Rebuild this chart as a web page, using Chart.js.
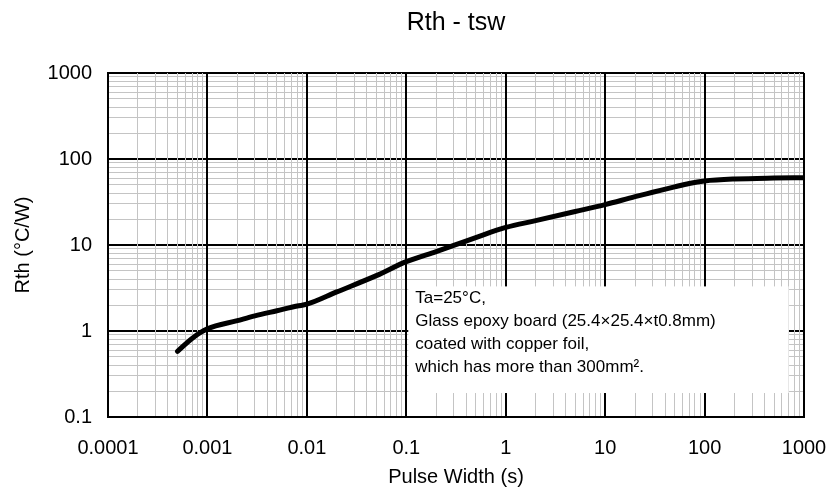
<!DOCTYPE html>
<html>
<head>
<meta charset="utf-8">
<title>Rth - tsw</title>
<script src="https://cdn.jsdelivr.net/npm/chart.js@4/dist/chart.umd.min.js"></script>
<style>
  html, body { margin: 0; padding: 0; background: #fff; }
  #wrap { width: 830px; height: 489px; }
</style>
</head>
<body>
<div id="wrap"><canvas id="rthChart" width="830" height="489"></canvas></div>
<script>
// Pulse width (s) and thermal resistance (°C/W)
const pulseWidth = [0.0005, 0.0007, 0.001, 0.002, 0.003, 0.005, 0.008, 0.01, 0.02, 0.05, 0.1, 0.2, 0.3, 0.5, 1, 2, 5, 10, 20, 30, 50, 70, 100, 200, 500, 1000];
const rthValues = [0.58, 0.82, 1.06, 1.32, 1.5, 1.72, 1.95, 2.05, 2.85, 4.4, 6.4, 8.4, 9.9, 12.2, 16, 19.2, 24.5, 29.5, 36.5, 41, 47.5, 52, 55.5, 58.5, 60, 60.5];

// decade tick labels
const xTickLabels = ["0.0001", "0.001", "0.01", "0.1", "1", "10", "100", "1000"];
const yTickLabels = ["0.1", "1", "10", "100", "1000"];

const noteLines = [
  "Ta=25°C,",
  "Glass epoxy board (25.4×25.4×t0.8mm)",
  "coated with copper foil,",
  "which has more than 300mm².",
];

const FONT = "Arial, 'Liberation Sans', sans-serif";

// 1..9 x 10^n ticks between the first and last decade label
function logTicks(labels) {
  const ticks = [];
  const first = Math.round(Math.log10(parseFloat(labels[0])));
  const last = Math.round(Math.log10(parseFloat(labels[labels.length - 1])));
  for (let e = first; e < last; e++) {
    for (let m = 1; m <= 9; m++) {
      ticks.push({ value: Number((m * Math.pow(10, e)).toPrecision(12)) });
    }
  }
  ticks.push({ value: Math.pow(10, last) });
  return ticks;
}

function isDecade(v) {
  const l = Math.log10(v);
  return Math.abs(l - Math.round(l)) < 1e-9;
}

function decadeLabel(labels) {
  return function (value) {
    if (!isDecade(value)) return "";
    const hit = labels.find((s) => Math.abs(parseFloat(s) - value) < value * 1e-6);
    return hit || "";
  };
}

function gridColor(ctx) {
  return ctx.tick && isDecade(ctx.tick.value) ? "#000000" : "#c4c4c4";
}

function gridWidth(ctx) {
  return ctx.tick && isDecade(ctx.tick.value) ? 2 : 1;
}

// white note box placed in data units
const noteBox = { xMin: 0.1, xMax: 700, yMin: 0.19, yMax: 3.3 };

const notePlugin = {
  id: "note",
  beforeDatasetsDraw(chart) {
    const { ctx, scales } = chart;
    const left = scales.x.getPixelForValue(noteBox.xMin) + 2;
    const right = scales.x.getPixelForValue(noteBox.xMax);
    const top = scales.y.getPixelForValue(noteBox.yMax);
    const bottom = scales.y.getPixelForValue(noteBox.yMin);
    ctx.save();
    ctx.fillStyle = "#ffffff";
    ctx.fillRect(left, top, right - left, bottom - top);
    ctx.fillStyle = "#000000";
    ctx.font = "17px " + FONT;
    ctx.textBaseline = "middle";
    ctx.textAlign = "left";
    noteLines.forEach((line, i) => {
      ctx.fillText(line, left + 7, top + 12 + i * 23);
    });
    ctx.restore();
  },
};

new Chart(document.getElementById("rthChart"), {
  type: "line",
  data: {
    datasets: [
      {
        label: "Rth",
        data: pulseWidth.map((x, i) => ({ x: x, y: rthValues[i] })),
        borderColor: "#000000",
        borderWidth: 5,
        borderCapStyle: "round",
        pointRadius: 0,
        fill: false,
        cubicInterpolationMode: "monotone",
      },
    ],
  },
  options: {
    responsive: false,
    animation: false,
    layout: { padding: { left: 0, right: 26, top: 0, bottom: 0 } },
    plugins: {
      legend: { display: false },
      tooltip: { enabled: false },
      title: {
        display: true,
        text: "Rth - tsw",
        fullSize: false,
        color: "#000",
        font: { family: FONT, size: 25, weight: "normal" },
        padding: { top: 8, bottom: 35 },
      },
    },
    scales: {
      x: {
        type: "logarithmic",
        min: 0.0001,
        max: 1000,
        afterBuildTicks: (scale) => { scale.ticks = logTicks(xTickLabels); },
        afterFit: (scale) => {
          scale.height = 72;
          scale.paddingLeft = 0;
          scale.paddingRight = 0;
        },
        ticks: {
          autoSkip: false,
          maxRotation: 0,
          padding: 19,
          color: "#000",
          font: { family: FONT, size: 20 },
          callback: decadeLabel(xTickLabels),
        },
        grid: { color: gridColor, lineWidth: gridWidth, drawTicks: false, z: -1 },
        border: { color: "#000", width: 2 },
        title: {
          display: true,
          text: "Pulse Width (s)",
          color: "#000",
          font: { family: FONT, size: 20 },
          padding: { top: 0, bottom: 0 },
        },
      },
      y: {
        type: "logarithmic",
        min: 0.1,
        max: 1000,
        afterBuildTicks: (scale) => { scale.ticks = logTicks(yTickLabels); },
        afterFit: (scale) => { scale.width = 108; },
        ticks: {
          autoSkip: false,
          padding: 16,
          color: "#000",
          font: { family: FONT, size: 20 },
          callback: decadeLabel(yTickLabels),
        },
        grid: { color: gridColor, lineWidth: gridWidth, drawTicks: false, z: -2 },
        border: { color: "#000", width: 2 },
        title: {
          display: true,
          text: "Rth (°C/W)",
          color: "#000",
          font: { family: FONT, size: 20 },
          padding: { top: 11, bottom: 0 },
        },
      },
    },
  },
  plugins: [notePlugin],
});
</script>
</body>
</html>
